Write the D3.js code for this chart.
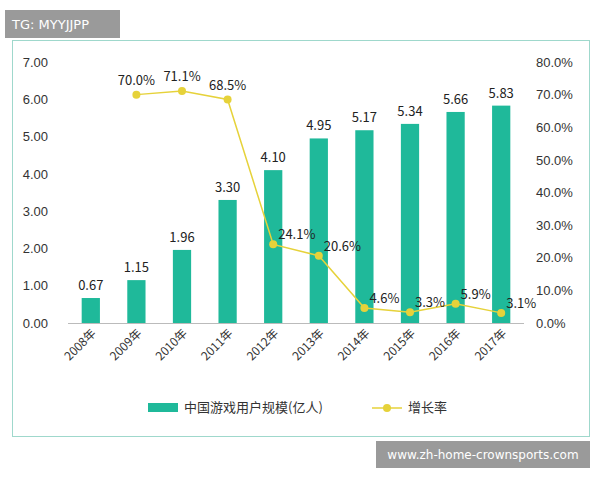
<!DOCTYPE html>
<html><head><meta charset="utf-8">
<script src="https://cdn.jsdelivr.net/npm/d3@7"></script>
<style>body{margin:0;background:#fff;font-family:"Noto Sans CJK SC","DejaVu Sans",sans-serif}</style>
</head><body><div id="chart"></div>
<script>
const years = ["2008年","2009年","2010年","2011年","2012年","2013年","2014年","2015年","2016年","2017年"];
const users = [0.67,1.15,1.96,3.30,4.10,4.95,5.17,5.34,5.66,5.83];
const growth = [null,70.0,71.1,68.5,24.1,20.6,4.6,3.3,5.9,3.1];
const leftTicks = [0,1,2,3,4,5,6,7];
const rightTicks = [0,10,20,30,40,50,60,70,80];

const svg = d3.select("#chart").append("svg").attr("width",600).attr("height",480);
const green = "#1fb99a", yellow = "#e6d23a";

// outer frame
svg.append("rect").attr("x",12.5).attr("y",40.5).attr("width",577).attr("height",396)
  .attr("fill","none").attr("stroke","#9fd8cc");

const x = d3.scaleBand().domain(years).range([68,524]).paddingInner(0.6).paddingOuter(0.3);
const y = d3.scaleLinear().domain([0,7]).range([323,62]);
const y2 = d3.scaleLinear().domain([0,80]).range([323,62]);

svg.append("g").attr("transform","translate(60,0)")
  .call(d3.axisLeft(y).tickValues(leftTicks).tickFormat(d3.format(".2f")).tickSize(0))
  .call(g=>g.select(".domain").remove())
  .selectAll("text").attr("font-size",13).attr("fill","#333").attr("x",-12);
svg.append("g").attr("transform","translate(526,0)")
  .call(d3.axisRight(y2).tickValues(rightTicks).tickFormat(d=>d.toFixed(1)+"%").tickSize(0))
  .call(g=>g.select(".domain").remove())
  .selectAll("text").attr("font-size",13).attr("fill","#333").attr("x",10);

svg.append("line").attr("x1",68).attr("x2",524).attr("y1",323.5).attr("y2",323.5).attr("stroke","#bbb");

svg.selectAll(".bar").data(users).enter().append("rect")
  .attr("x",(d,i)=>x(years[i])).attr("width",x.bandwidth())
  .attr("y",d=>y(d)).attr("height",d=>y(0)-y(d)).attr("fill",green);
svg.selectAll(".bl").data(users).enter().append("text")
  .attr("x",(d,i)=>x(years[i])+x.bandwidth()/2).attr("y",d=>y(d)-8)
  .attr("text-anchor","middle").attr("font-size",13).attr("fill","#222").text(d=>d.toFixed(2));

svg.append("g").selectAll("text").data(years).enter().append("text")
  .attr("transform",d=>`translate(${x(d)+x.bandwidth()/2+6},${334}) rotate(-45)`)
  .attr("text-anchor","end").attr("font-size",12).attr("fill","#333").text(d=>d);

const pts = growth.map((g,i)=>({g,i})).filter(d=>d.g!==null);
const cx = d=>x(years[d.i])+x.bandwidth()/2;
svg.append("path").datum(pts).attr("fill","none").attr("stroke",yellow).attr("stroke-width",1.5)
  .attr("d",d3.line().x(cx).y(d=>y2(d.g)));
svg.selectAll(".pt").data(pts).enter().append("circle")
  .attr("cx",cx).attr("cy",d=>y2(d.g)).attr("r",4).attr("fill",yellow);
svg.selectAll(".pl").data(pts).enter().append("text")
  .attr("x",d=>cx(d)+(d.i>=4?5:0)).attr("y",d=>y2(d.g)-(d.i>=4?5:10))
  .attr("text-anchor",d=>d.i>=4?"start":"middle").attr("font-size",13).attr("fill","#222")
  .text(d=>d.g.toFixed(1)+"%");

// legend
const lg = svg.append("g");
lg.append("rect").attr("x",148).attr("y",403).attr("width",30).attr("height",9).attr("fill",green);
lg.append("text").attr("x",184).attr("y",412).attr("font-size",13).attr("fill","#333").text("中国游戏用户规模(亿人)");
lg.append("line").attr("x1",372).attr("x2",402).attr("y1",408).attr("y2",408).attr("stroke",yellow).attr("stroke-width",1.5);
lg.append("circle").attr("cx",387).attr("cy",408).attr("r",4).attr("fill",yellow);
lg.append("text").attr("x",408).attr("y",412).attr("font-size",13).attr("fill","#333").text("增长率");

// watermarks
svg.append("rect").attr("x",5).attr("y",10).attr("width",115).attr("height",28).attr("fill","#9a9a9a");
svg.append("text").attr("x",12).attr("y",29).attr("font-size",13).attr("fill","#fff").attr("font-family","DejaVu Sans").text("TG: MYYJJPP");
svg.append("rect").attr("x",376).attr("y",441).attr("width",214).attr("height",27).attr("fill","#9a9a9a");
svg.append("text").attr("x",483).attr("y",459).attr("text-anchor","middle").attr("font-size",12).attr("fill","#fff").attr("font-family","DejaVu Sans").text("www.zh-home-crownsports.com");
</script></body></html>
